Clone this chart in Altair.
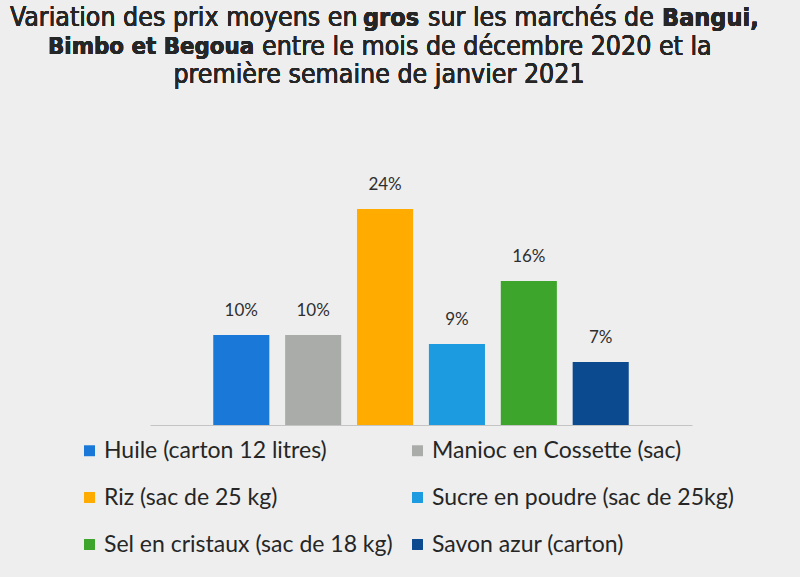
import altair as alt
import pandas as pd

# Produits et variation des prix moyens en gros (%)
produits = [
    "Huile (carton 12 litres)",
    "Manioc en Cossette (sac)",
    "Riz (sac de 25 kg)",
    "Sucre en poudre (sac de 25kg)",
    "Sel en cristaux (sac de 18 kg)",
    "Savon azur (carton)",
]
variations = [10, 10, 24, 9, 16, 7]
couleurs = ["#1a78d8", "#aaaca9", "#ffab00", "#1c9be0", "#3ea52c", "#0b4a8f"]

df = pd.DataFrame({
    "produit": produits,
    "variation": variations,
    "etiquette": [f"{v}%" for v in variations],
})

TITLE_FONT = "DejaVu Sans Condensed"
BODY_FONT = "Lato"
INK = "#262626"

x_enc = alt.X(
    "produit:N",
    sort=produits,
    scale=alt.Scale(paddingInner=0.22, paddingOuter=0.88),
    axis=alt.Axis(labels=False, ticks=False, title=None, domainColor="#c4c4c4", domainWidth=1.2),
)
y_enc = alt.Y("variation:Q", scale=alt.Scale(domain=[0, 28]), axis=None)

bars = alt.Chart(df).mark_bar().encode(
    x=x_enc,
    y=y_enc,
    color=alt.Color(
        "produit:N",
        sort=produits,
        scale=alt.Scale(domain=produits, range=couleurs),
        legend=alt.Legend(
            title=None,
            orient="none",
            direction="horizontal",
            legendX=-72,
            legendY=266,
            columns=2,
            symbolType="square",
            symbolSize=120,
            symbolStrokeWidth=0,
            labelFont=BODY_FONT,
            labelFontSize=23,
            labelColor=INK,
            labelOffset=3,
            labelLimit=400,
            rowPadding=23,
            columnPadding=13,
            padding=0,
        ),
    ),
)

labels = alt.Chart(df).mark_text(
    font=BODY_FONT, fontSize=17, color="#2e2e2e", baseline="middle", dy=-24
).encode(x=alt.X("produit:N", sort=produits), y="variation:Q", text="etiquette:N")

# Titre sur trois lignes, avec certains mots en gras
def title_part(txt, x, y, bold=False, align="left", size=None):
    return alt.Chart(df).mark_text(
        font=TITLE_FONT,
        fontSize=size if size else (25 if bold else 26.5),
        fontWeight="bold" if bold else "normal",
        color=INK,
        align=align,
        baseline="middle",
    ).encode(x=alt.value(x), y=alt.value(y), text=alt.value(txt))

title_layers = [
    title_part("Variation des prix moyens en", -140, -155),
    title_part("gros", 213, -155, bold=True),
    title_part("sur les marchés de", 278, -155),
    title_part("Bangui,", 512, -155, bold=True),
    title_part("Bimbo et Begoua", -102, -126, bold=True, size=23.8),
    title_part("entre le mois de décembre 2020 et la", 112, -126),
    title_part("première semaine de janvier 2021", 229, -98, align="center"),
]

chart = alt.layer(bars, labels, *title_layers).properties(
    width=542,
    height=252,
    background="#eeeeef",
    padding={"left": 150, "top": 173, "right": 108, "bottom": 152},
    autosize=alt.AutoSizeParams(type="none"),
).configure_view(stroke=None)

chart.save("out.html", embed_options={"renderer": "svg", "actions": False})
